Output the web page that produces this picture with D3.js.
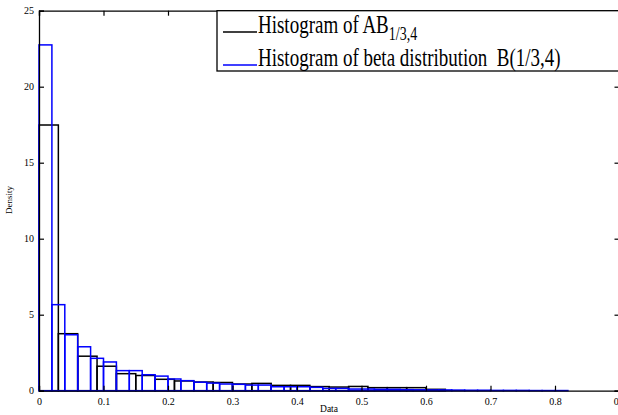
<!DOCTYPE html>
<html>
<head>
<meta charset="utf-8">
<script src="https://cdn.jsdelivr.net/npm/d3@7"></script>
<style>
  body { margin: 0; background: #fff; }
  text { font-family: "Liberation Serif", "Times New Roman", serif; fill: #000; }
</style>
</head>
<body>
<div id="chart"></div>
<script>
// svg container
var svgWidth = 618;
var svgHeight = 415;

var margin = { top: 10.7, right: -1.5, bottom: 24.3, left: 39 };
var width = svgWidth - margin.left - margin.right;
var height = svgHeight - margin.top - margin.bottom;

// histogram of AB_{1/3,4}: bins of width 0.03 starting at 0
var abBinWidth = 0.03;
var abDensity = [17.48, 3.75, 2.27, 1.61, 1.12, 1.0, 0.75, 0.64, 0.57, 0.54,
                 0.44, 0.48, 0.35, 0.35, 0.27, 0.24, 0.28, 0.2, 0.2, 0.2, 0.09];

// histogram of beta B(1/3,4): bins of width 0.02 starting at 0
var betaBinWidth = 0.02;
var betaDensity = [22.75, 5.66, 3.68, 2.89, 2.13, 1.89, 1.32, 1.32, 1.05, 0.96,
                   0.77, 0.66, 0.56, 0.5, 0.44, 0.42, 0.37, 0.37, 0.26, 0.26,
                   0.26, 0.22, 0.15, 0.15, 0.11, 0.11, 0.09, 0.09, 0.07, 0.06,
                   0.05, 0.05, 0.04, 0.03, 0.03, 0.02, 0.02, 0.02, 0.01, 0.01, 0.01];

var xTicks = [0, 0.1, 0.2, 0.3, 0.4, 0.5, 0.6, 0.7, 0.8, 0.9];
var yTicks = [0, 5, 10, 15, 20, 25];
var legendLabels = ["Histogram of AB", "Histogram of beta distribution  B(1/3,4)"];

var svg = d3.select("#chart").append("svg")
    .attr("width", svgWidth)
    .attr("height", svgHeight);

var chartGroup = svg.append("g")
    .attr("transform", `translate(${margin.left}, ${margin.top})`);

var x = d3.scaleLinear().domain([0, 0.9]).range([0, width]);
var y = d3.scaleLinear().domain([0, 25]).range([height, 0]);

// draw bars as outlines only
function drawHist(data, binW, color) {
    chartGroup.append("g").selectAll("rect")
        .data(data)
        .enter()
        .append("rect")
        .attr("x", (d, i) => x(i * binW))
        .attr("y", d => y(d))
        .attr("width", x(binW) - x(0))
        .attr("height", d => y(0) - y(d))
        .attr("fill", "none")
        .attr("stroke", color)
        .attr("stroke-width", 1.5);
}
drawHist(abDensity, abBinWidth, "#000");
drawHist(betaDensity, betaBinWidth, "#0000ff");

// axes, matlab style with ticks pointing in
var tickLen = 5;
var bottomAxis = d3.axisBottom(x).tickValues(xTicks).tickSize(-tickLen).tickPadding(7)
    .tickFormat(d => d === 0 ? "0" : d3.format(".1f")(d));
var leftAxis = d3.axisLeft(y).tickValues(yTicks).tickSize(-tickLen).tickPadding(5);
var topAxis = d3.axisTop(x).tickValues(xTicks).tickSize(-tickLen).tickFormat("");
var rightAxis = d3.axisRight(y).tickValues(yTicks).tickSize(-tickLen).tickFormat("");

chartGroup.append("g").attr("transform", `translate(0, ${height})`).call(bottomAxis);
chartGroup.append("g").call(leftAxis);
chartGroup.append("g").call(topAxis);
chartGroup.append("g").attr("transform", `translate(${width}, 0)`).call(rightAxis);

chartGroup.selectAll(".domain").attr("stroke", "#000").attr("stroke-width", 1.3);
chartGroup.selectAll(".tick line").attr("stroke", "#000").attr("stroke-width", 1.2);
chartGroup.selectAll(".tick text")
    .style("font-family", "Liberation Serif, serif")
    .style("font-size", "10px")
    .attr("fill", "#222");

// axis titles
svg.append("text")
    .attr("x", 329)
    .attr("y", 412)
    .attr("text-anchor", "middle")
    .style("font-size", "9.5px")
    .text("Data");

svg.append("text")
    .attr("transform", "translate(12, 200) rotate(-90)")
    .attr("text-anchor", "middle")
    .style("font-size", "9px")
    .text("Density");

// legend
var legend = svg.append("g");
legend.append("rect")
    .attr("x", 217)
    .attr("y", 10.7)
    .attr("width", 405)
    .attr("height", 60.3)
    .attr("fill", "#fff")
    .attr("stroke", "#000")
    .attr("stroke-width", 1.3);

var legendColors = ["#000", "#0000ff"];
var legendY = [32, 65];
legendLabels.forEach(function(label, i) {
    legend.append("line")
        .attr("x1", 223).attr("x2", 257)
        .attr("y1", legendY[i]).attr("y2", legendY[i])
        .attr("stroke", legendColors[i])
        .attr("stroke-width", 1.5);
    var t = legend.append("text")
        .attr("transform", `translate(258, ${legendY[i] + 1}) scale(1, 1.3)`)
        .style("font-size", "19px")
        .style("white-space", "pre")
        .text(label);
    if (i === 0) {
        t.append("tspan")
            .attr("dy", 5.5)
            .style("font-size", "14px")
            .text("1/3,4");
    }
});
</script>
</body>
</html>
